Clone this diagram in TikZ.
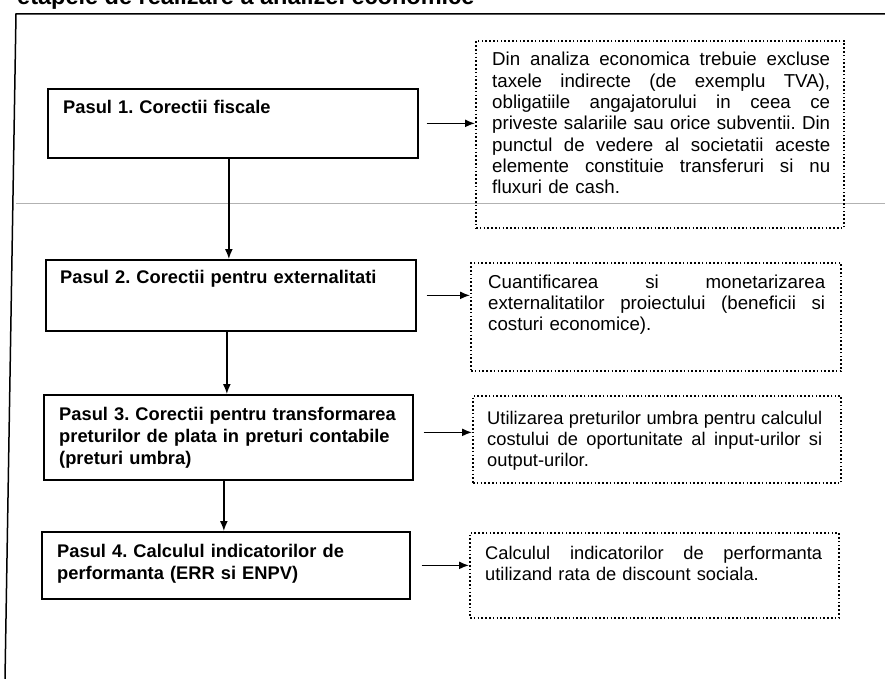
\documentclass[tikz,border=0pt]{standalone}
\usepackage{fontspec}
\setmainfont{Liberation Sans}
\usetikzlibrary{arrows.meta,calc}
\frenchspacing
\newcommand{\jline}[1]{\makebox[\hsize][s]{\spaceskip=0pt\xspaceskip=0pt\relax #1}\\}
\tikzset{
  stepbox/.style={draw=black, line width=1.7pt, inner sep=0pt, anchor=north west},
  notebox/.style={draw=black, line width=2pt, dash pattern=on 1.6pt off 2.2pt, inner sep=0pt, anchor=north west},
  steptext/.style={anchor=base west, inner sep=0pt, align=left, text width=350pt, font=\fontsize{18.3}{22}\selectfont\bfseries},
  notetext/.style={anchor=base west, inner sep=0pt, align=left, font=\fontsize{18.3}{21.3}\selectfont},
  bignote/.style={notetext, font=\fontsize{18.7}{21.3}\selectfont},
  flow/.style={line width=1.5pt, -{Latex[length=10pt,width=8pt]}},
  frame/.style={line width=1.5pt},
}
\begin{document}
\begin{tikzpicture}[x=1pt,y=-1pt]
\useasboundingbox (0,0) rectangle (885,679);
\fill[white] (0,0) rectangle (885,679);
% title (cut off at top, as in the reference)
\node[anchor=base west, inner sep=0pt, font=\fontsize{23.5}{26}\selectfont\bfseries] (title) at (17,5) {etapele de realizare a analizei economice};
% frame
\draw[frame] (885,14) -- (16,14) -- (5,679);
\draw[gray!60, line width=0.6pt] (16,203) -- (885,203);
% left step boxes
\node[stepbox, minimum width=370pt, minimum height=69pt] (b1) at (47,88) {};
\node[stepbox, minimum width=370pt, minimum height=71pt] (b2) at (45,259) {};
\node[stepbox, minimum width=369pt, minimum height=85pt] (b3) at (43,394) {};
\node[stepbox, minimum width=368pt, minimum height=67pt] (b4) at (41,531) {};
\node[steptext] (s1) at (63,114) {Pasul 1. Corectii fiscale};
\node[steptext] (s2) at (60,283) {Pasul 2. Corectii pentru externalitati};
\node[steptext] (s3) at (59,420) {Pasul 3. Corectii pentru transformarea\\preturilor de plata in preturi contabile\\(preturi umbra)};
\node[steptext] (s4) at (57,557) {Pasul 4. Calculul indicatorilor de\\performanta (ERR si ENPV)};
% right note boxes
\node[notebox, minimum width=368pt, minimum height=187pt] (r1) at (475,40) {};
\node[notebox, minimum width=370pt, minimum height=108pt] (r2) at (470,262) {};
\node[notebox, minimum width=368pt, minimum height=87pt] (r3) at (472,395) {};
\node[notebox, minimum width=369pt, minimum height=85pt] (r4) at (469,532) {};
\node[bignote, text width=338pt] (n1) at (492,66) {%
\jline{Din analiza economica trebuie excluse}
\jline{taxele indirecte (de exemplu TVA),}
\jline{obligatiile angajatorului in ceea ce}
\jline{priveste salariile sau orice subventii. Din}
\jline{punctul de vedere al societatii aceste}
\jline{elemente constituie transferuri si nu}
fluxuri de cash.};
\node[bignote, text width=337pt] (n2) at (488,288) {%
\jline{Cuantificarea si monetarizarea}
\jline{externalitatilor proiectului (beneficii si}
costuri economice).};
\node[notetext, text width=335pt] (n3) at (487,424) {%
\jline{Utilizarea preturilor umbra pentru calculul}
\jline{costului de oportunitate al input-urilor si}
output-urilor.};
\node[notetext, text width=337pt] (n4) at (485,559) {%
\jline{Calculul indicatorilor de performanta}
utilizand rata de discount sociala.};
% vertical connectors
\draw[flow] ([xshift=-4pt]b1.south) -- ([xshift=-4pt]b1.south |- b2.north);
\draw[flow] ([xshift=-4pt]b2.south) -- ([xshift=-4pt]b2.south |- b3.north);
\draw[flow] ([xshift=-4.5pt]b3.south) -- ([xshift=-4.5pt]b3.south |- b4.north);
% horizontal connectors
\draw[flow] ([xshift=8pt]b1.east) -- (r1.west |- b1.east);
\draw[flow] ([xshift=10pt]b2.east) -- (r2.west |- b2.east);
\draw[flow] ([xshift=10pt,yshift=5pt]b3.east) -- ($(r3.west |- b3.east)+(0,-5)$);
\draw[flow] ([xshift=11pt]b4.east) -- (r4.west |- b4.east);
\end{tikzpicture}
\end{document}
